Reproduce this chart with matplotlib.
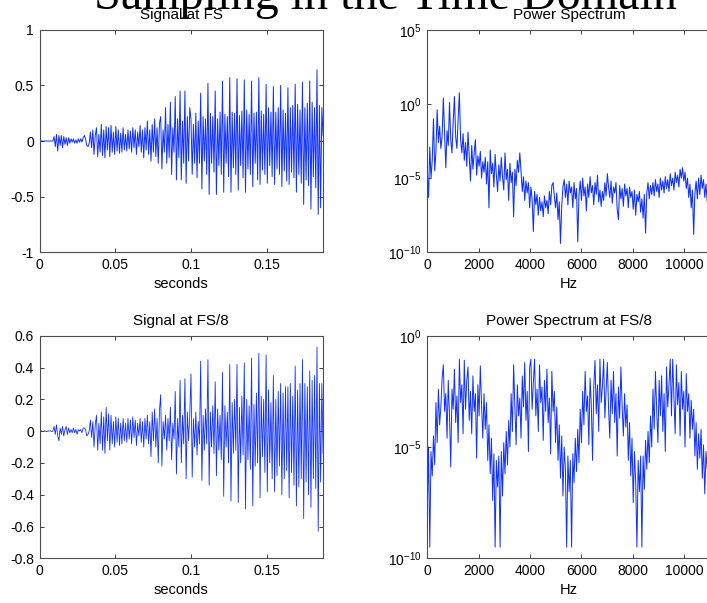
import numpy as np
import matplotlib
matplotlib.use("Agg")
import matplotlib.pyplot as plt

plt.rcParams['font.family'] = ['Liberation Sans', 'DejaVu Sans']
plt.rcParams['mathtext.fontset'] = 'custom'
plt.rcParams['mathtext.rm'] = 'Liberation Sans'
plt.rcParams['axes.unicode_minus'] = False

dt = 0.0008
sig_fs = [
    0, 0, 0, 0, 0, 0, 0, 0, 0, 0, 0, 0,
    0.04, -0.05, 0.06, -0.09, 0.05, -0.04, 0.05, -0.06, 0.04, -0.03, 0.03, -0.04, 0.03, -0.02,
    0.02, -0.01, 0.02, -0.02, 0.01, -0.02, 0.02, -0.01, 0.02, -0.01, 0.03, 0.05, 0.02,
    -0.04, -0.05, -0.02,
    0.08, -0.06, 0.1, -0.12, 0.05, 0.12, -0.14, 0.06, -0.1, 0.15, -0.13, 0.1, -0.15, 0.13, -0.08,
    0.12, -0.14, 0.14, -0.1, 0.08, -0.12, 0.13, -0.09, 0.1, -0.11, 0.07, -0.1, 0.12, -0.08, 0.06,
    -0.09, 0.1, -0.07,
    0.09, -0.1, 0.12, -0.06, 0.1, -0.12, 0.08, -0.05, 0.14, -0.1, 0.1, -0.15, 0.12, -0.08, 0.18,
    -0.12, 0.1, -0.18, 0.15, -0.1, 0.2, -0.14, 0.12, -0.2, 0.16,
    0.22, -0.25, 0.1, -0.1, 0.3, -0.2, 0.15, -0.15, 0.35, -0.3, 0.12, -0.1, 0.4, -0.35, 0.2,
    -0.15, 0.45, -0.35, 0.18, -0.2, 0.45, -0.38, 0.22, -0.18, 0.3,
    0.2, -0.3, 0.15, -0.2, 0.25, -0.33, 0.18, -0.2,
    0.43, -0.43, 0.22, -0.18, 0.2, -0.3,
    0.52, -0.48, 0.25, -0.2, 0.22, -0.28,
    0.45, -0.48, 0.2, -0.22, 0.26, -0.3,
    0.54, -0.46, 0.24, -0.2, 0.22, -0.32,
    0.57, -0.46, 0.26, -0.24, 0.25, -0.3,
    0.56, -0.44, 0.23, -0.22, 0.27, -0.33,
    0.55, -0.46, 0.28, -0.25, 0.24, -0.3,
    0.54, -0.41, 0.25, -0.2, 0.26, -0.35,
    0.57, -0.39, 0.27, -0.26, 0.24, -0.3,
    0.51, -0.38, 0.3, -0.22, 0.26, -0.32,
    0.49, -0.39, 0.26, -0.25, 0.3, -0.3,
    0.5, -0.41, 0.28, -0.27, 0.25, -0.36,
    0.48, -0.39, 0.3, -0.28, 0.32, -0.33,
    0.51, -0.46, 0.33, -0.3, 0.28, -0.38,
    0.53, -0.57, 0.3, -0.35, 0.34, -0.4,
    0.54, -0.61, 0.35, -0.32, 0.3, -0.42,
    0.64, -0.66, 0.32, -0.6, 0.3, 0.05,
]

# señal a FS/8
sig_fs8 = [
    0, 0.003, 0, -0.002, 0.002, 0, -0.003, 0.002, 0, 0.003, -0.002, 0,
    0.03, -0.02, 0.04, -0.03, -0.06, 0.02, -0.02, 0.03, -0.03, 0.01, 0.03, -0.02, 0.02, -0.01,
    0.01, -0.01, 0.02, -0.01, 0.01, -0.02, 0.01, 0, 0.01, -0.01, 0.02, 0.02, 0.01,
    -0.03, -0.02, 0.0,
    0.07, -0.04, 0.06, -0.1, 0.04, 0.1, -0.12, 0.05, -0.08, 0.12, -0.12, 0.09, -0.14, 0.15, -0.06,
    0.11, -0.12, 0.1, -0.08, 0.06, -0.1, 0.09, -0.07, 0.08, -0.09, 0.05, -0.08, 0.08, -0.06, 0.05,
    -0.07, 0.08, -0.05,
    0.07, -0.08, 0.09, -0.04, 0.07, -0.09, 0.05, -0.03, 0.08, -0.07, 0.06, -0.1, 0.08, -0.05, 0.1,
    -0.08, 0.06, -0.16, 0.12, -0.06, 0.14, -0.1, 0.08, -0.2, 0.13,
    0.23, -0.22, 0.06, -0.05, 0.1, -0.12, 0.08, -0.06, 0.15, -0.18, 0.05, -0.05, 0.25, -0.27, 0.08,
    -0.1, 0.32, -0.2, 0.1, -0.08, 0.33, -0.3, 0.12, -0.06, 0.1,
    0.36, -0.29, 0.08, -0.1, 0.12, -0.15, 0.06, -0.08,
    0.44, -0.31, 0.1, -0.12, 0.14, -0.08,
    0.45, -0.34, 0.12, -0.1, 0.16, -0.14,
    0.31, -0.28, 0.14, -0.12, 0.1, -0.18,
    0.37, -0.41, 0.16, -0.1, 0.12, -0.2,
    0.42, -0.44, 0.18, -0.14, 0.2, -0.12,
    0.42, -0.45, 0.15, -0.2, 0.22, -0.15,
    0.43, -0.49, 0.2, -0.18, 0.16, -0.24,
    0.46, -0.47, 0.17, -0.22, 0.24, -0.2,
    0.49, -0.42, 0.22, -0.16, 0.2, -0.26,
    0.48, -0.38, 0.26, -0.2, 0.18, -0.3,
    0.35, -0.38, 0.2, -0.28, 0.25, -0.22,
    0.3, -0.4, 0.24, -0.3, 0.28, -0.25,
    0.28, -0.42, 0.3, -0.26, 0.22, -0.34,
    0.41, -0.47, 0.26, -0.35, 0.3, -0.3,
    0.45, -0.55, 0.3, -0.32, 0.28, -0.4,
    0.38, -0.48, 0.32, -0.3, 0.35, -0.36,
    0.53, -0.63, 0.3, -0.32, 0.3, -0.14,
]

# espectros: exponentes log10 de la potencia, cada 48 Hz
df = 48.0
spec_fs_exp = [
    -4.6, -6.3, -2.9, -5.0, -3.8, -1.0, -4.5, -3.2, -0.4, -2.6, -1.5, -3.0, -2.2, 0.4, -2.0, -4.3,
    -1.8, -2.8, 0.1, -2.4, -3.3, -1.2, 0.5, -2.2, -3.0, -1.0, 0.75, -2.4, -3.3, -2.0, -3.8, -2.6,
    -4.2, -1.9, -3.6, -5.2, -2.8, -4.4, -3.3, -2.4, -4.8, -3.5, -4.2, -3.2, -5.0, -3.9, -4.6, -3.6,
    -5.4, -3.9, -7.0, -3.1, -4.7, -4.0, -5.6, -3.4, -4.8, -5.9, -4.1, -5.2, -3.6, -4.9, -5.8, -3.3,
    -5.1, -4.4, -6.5, -4.0, -5.3, -4.6, -7.6, -4.4, -5.5, -3.8, -4.6, -3.3, -4.5, -5.9, -4.9, -6.5,
    -5.2, -6.0, -5.3, -7.0, -5.6, -6.4, -8.6, -5.9, -6.8, -6.1, -7.5, -6.3, -7.2, -6.6, -7.6, -6.2,
    -7.0, -6.5, -7.4, -5.9, -6.8, -5.5, -5.3, -6.2, -7.0, -6.0, -7.8, -6.6, -9.4, -6.9, -5.6, -5.1,
    -6.3, -5.4, -6.8, -5.2, -6.0, -5.6, -7.0, -5.3, -6.4, -5.7, -9.3, -6.1, -5.2, -6.5, -5.0, -6.2,
    -5.6, -7.2, -5.4, -6.3, -4.9, -6.0, -5.5, -6.8, -5.3, -6.1, -4.8, -6.6, -5.8, -6.9, -5.9, -6.5,
    -5.3, -6.2, -4.7, -5.6, -6.3, -5.2, -6.7, -5.6, -6.0, -5.3, -7.1, -7.8, -5.5, -6.4, -5.7, -6.9,
    -5.4, -6.2, -5.7, -7.0, -5.6, -6.3, -5.9, -7.1, -5.8, -7.5, -6.1, -6.6, -5.9, -7.3, -6.4, -7.7,
    -6.1, -8.7, -6.0, -5.3, -6.4, -5.5, -6.1, -5.3, -6.2, -5.1, -5.9, -5.4, -6.3, -5.0, -5.8, -5.2,
    -6.0, -4.9, -5.7, -5.1, -5.9, -4.7, -5.5, -5.0, -5.8, -4.6, -5.3, -4.8, -5.6, -4.4, -5.0, -4.3,
    -5.2, -4.6, -5.7, -5.0, -6.3, -5.4, -7.0, -5.8, -8.8, -6.0, -5.2, -6.4, -5.0, -6.1, -4.8, -5.7,
    -5.1, -6.3, -5.4, -6.6, -5.3, -6.0,
]

spec_fs8_exp = [
    -8.0, -5.0, -9.5, -5.2, -6.3, -4.5, -5.8, -3.0, -4.8, -2.4, -4.0, -3.2, -1.9, -1.3, -3.4, -2.6,
    -4.6, -2.0, -3.6, -5.9, -2.4, -3.3, -1.5, -3.9, -2.7, -4.8, -1.05, -3.0, -2.2, -4.4, -1.1, -3.3,
    -2.0, -1.4, -3.8, -2.5, -4.4, -1.8, -3.4, -2.6, -5.5, -2.2, -3.6, -1.35, -3.1, -4.6, -2.6, -4.2,
    -3.0, -5.6, -4.0, -6.2, -4.6, -7.4, -5.3, -9.5, -5.6, -6.8, -5.4, -9.5, -5.2, -7.2, -4.8, -6.2,
    -4.3, -5.8,
    -3.8, -5.0, -2.6, -4.3, -1.3, -3.2, -4.9, -2.2, -3.6, -2.8, -4.6, -1.8, -3.2, -1.2, -3.8, -2.5,
    -5.2, -1.4, -1.05, -3.3, -2.1, -1.05, -3.6, -2.4, -4.3, -1.3, -3.0, -2.3, -4.7, -2.0, -3.4, -1.5,
    -3.9, -2.8, -5.3, -1.6, -3.4, -2.5, -4.8, -3.2, -5.6, -4.0, -6.4, -4.5, -7.2, -5.0, -6.0, -9.5,
    -5.4, -7.0, -5.6, -9.5, -5.3, -6.6, -4.6, -6.1, -4.2, -5.7,
    -3.3, -4.8, -2.5, -4.0, -1.6, -3.4, -2.7, -4.9, -1.9, -3.1, -5.6, -2.3, -1.1, -3.5, -2.2, -4.3,
    -1.05, -3.0, -2.3, -1.05, -3.7, -2.5, -1.2, -3.3, -4.6, -2.0, -3.5, -1.6, -3.9, -2.6, -5.4, -2.3,
    -3.7, -1.4, -3.2, -4.5, -2.6, -4.1, -3.1, -5.6, -3.9, -6.3, -4.6, -7.5, -5.2, -6.6, -9.5, -5.6,
    -7.0, -5.4, -9.5, -5.4, -6.9, -4.7, -6.0, -4.3, -5.7,
    -3.6, -5.0, -2.4, -4.2, -1.6, -3.3, -4.8, -2.0, -3.6, -1.8, -4.3, -2.6, -5.2, -1.4, -3.2, -2.2,
    -1.05, -3.6, -1.05, -2.8, -4.4, -1.3, -3.1, -2.1, -4.5, -1.6, -3.3, -2.5, -5.0, -1.7, -3.4, -2.6,
    -4.6, -2.9, -4.2, -3.3, -5.4, -3.9, -6.0, -4.4, -5.5, -4.2, -6.4, -4.9, -7.1, -5.2, -6.0, -4.8,
    -6.4,
]

titles = ['Signal at FS', 'Power Spectrum', 'Signal at FS/8', 'Power Spectrum at FS/8']
t_ticks = [0, 0.05, 0.1, 0.15]
t_ticklabels = ['0', '0.05', '0.1', '0.15']
f_ticks = [0, 2000, 4000, 6000, 8000, 10000]
y1_ticks = [-1, -0.5, 0, 0.5, 1]
y1_ticklabels = ['-1', '-0.5', '0', '0.5', '1']
y3_ticks = [-0.8, -0.6, -0.4, -0.2, 0, 0.2, 0.4, 0.6]
y3_ticklabels = ['-0.8', '-0.6', '-0.4', '-0.2', '0', '0.2', '0.4', '0.6']
p_ticks = [1e-10, 1e-5, 1e0, 1e5]
p_ticklabels = ['$10^{-10}$', '$10^{-5}$', '$10^{0}$', '$10^{5}$']

t1 = np.arange(len(sig_fs)) * dt
t2 = np.arange(len(sig_fs8)) * dt
f1 = np.arange(len(spec_fs_exp)) * df
f2 = np.arange(len(spec_fs8_exp)) * df
p1 = 10.0 ** np.array(spec_fs_exp)
p2 = 10.0 ** np.array(spec_fs8_exp)

color = '#1030ff'
fig = plt.figure(figsize=(7.07, 6.03), dpi=100)

w, h = 0.4006, 0.369
ax1 = fig.add_axes([0.0559, 0.5816, w, h])
ax2 = fig.add_axes([0.6044, 0.5816, w, h])
ax3 = fig.add_axes([0.0559, 0.0741, w, h])
ax4 = fig.add_axes([0.6044, 0.0741, w, h])

ax1.plot(t1, sig_fs, color=color, lw=0.7)
ax3.plot(t2, sig_fs8, color=color, lw=0.6)
ax2.semilogy(f1, p1, color=color, lw=0.75)
ax4.semilogy(f2, p2, color=color, lw=0.7)

for ax in (ax1, ax3):
    ax.set_xlim(0, 0.187)
    ax.set_xticks(t_ticks)
    ax.set_xticklabels(t_ticklabels)
    ax.set_xlabel('seconds', fontsize=10.5, labelpad=4)
ax1.set_ylim(-1, 1)
ax1.set_yticks(y1_ticks)
ax1.set_yticklabels(y1_ticklabels)
ax3.set_ylim(-0.8, 0.6)
ax3.set_yticks(y3_ticks)
ax3.set_yticklabels(y3_ticklabels)

for ax in (ax2, ax4):
    ax.set_xlim(0, 11025)
    ax.set_xticks(f_ticks)
    ax.set_xticklabels([str(v) for v in f_ticks])
    ax.set_xlabel('Hz', fontsize=10.5, labelpad=4)
    ax.minorticks_off()
ax2.set_ylim(1e-10, 1e5)
ax2.set_yticks(p_ticks)
ax2.set_yticklabels(p_ticklabels)
ax4.set_ylim(1e-10, 1e0)
ax4.set_yticks(p_ticks[:3])
ax4.set_yticklabels(p_ticklabels[:3])
ax2.minorticks_off()
ax4.minorticks_off()

for ax, title in zip((ax1, ax2, ax3, ax4), titles):
    ax.set_title(title, fontsize=11, pad=8)
    ax.tick_params(direction='in', top=True, right=True, length=3, width=0.7,
                   labelsize=10, pad=4, color='0.25')
    for s in ax.spines.values():
        s.set_color('0.3')
        s.set_linewidth(0.8)

fig.text(386 / 707, 1 - 9 / 603, 'Sampling in the Time Domain', ha='center', va='baseline',
         fontsize=34.7, family=['Liberation Serif', 'DejaVu Serif'])

fig.savefig('out.png', dpi=100)
